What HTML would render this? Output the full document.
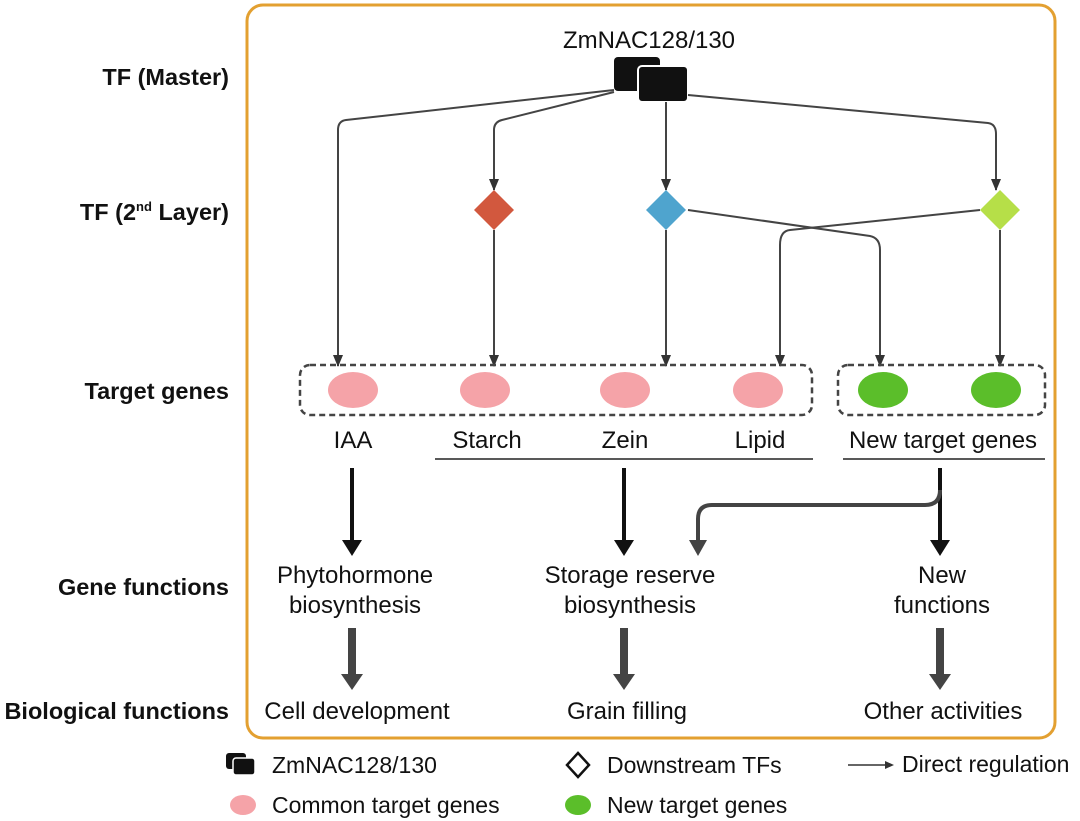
<!DOCTYPE html>
<html><head><style>body{margin:0;background:#fff}svg{display:block}text{font-family:"Liberation Sans",sans-serif}</style></head><body>
<svg width="1080" height="821" viewBox="0 0 1080 821" xmlns="http://www.w3.org/2000/svg">
<defs>
<marker id="a" markerWidth="12" markerHeight="12" refX="11" refY="6" orient="auto" markerUnits="userSpaceOnUse"><path d="M0,1 L12,6 L0,11 Z" fill="#333"/></marker>
</defs>
<rect x="247" y="5" width="808" height="733" rx="16" fill="none" stroke="#E3A031" stroke-width="3"/>
<g font-size="23.5" font-weight="bold" text-anchor="end" fill="#111">
<text x="229" y="85">TF (Master)</text>
<text x="229" y="220">TF (2<tspan font-size="13" dy="-9">nd</tspan><tspan dy="9"> Layer)</tspan></text>
<text x="229" y="399">Target genes</text>
<text x="229" y="595">Gene functions</text>
<text x="229" y="719">Biological functions</text>
</g>
<text x="649" y="48" font-size="24" text-anchor="middle" fill="#111">ZmNAC128/130</text>
<rect x="614" y="57" width="46" height="34" rx="4" fill="#111"/>
<rect x="638" y="66" width="50" height="36" rx="4" fill="#111" stroke="#fff" stroke-width="2"/>
<g fill="none" stroke="#444" stroke-width="2">
<path d="M614,90 L346,120 Q338,121 338,130 L338,366" marker-end="url(#a)"/>
<path d="M614,92 L502,120 Q494,122 494,130 L494,190" marker-end="url(#a)"/>
<path d="M666,102 L666,190" marker-end="url(#a)"/>
<path d="M688,95 L988,123 Q996,124 996,134 L996,190" marker-end="url(#a)"/>
<path d="M494,230 L494,366" marker-end="url(#a)"/>
<path d="M666,230 L666,366" marker-end="url(#a)"/>
<path d="M688,210 L870,236 Q880,238 880,250 L880,366" marker-end="url(#a)"/>
<path d="M980,210 L790,230 Q780,231 780,245 L780,366" marker-end="url(#a)"/>
<path d="M1000,230 L1000,366" marker-end="url(#a)"/>
</g>
<path d="M494,190 L514,210 L494,230 L474,210 Z" fill="#D2583E"/>
<path d="M666,190 L686,210 L666,230 L646,210 Z" fill="#4FA4CE"/>
<path d="M1000,190 L1020,210 L1000,230 L980,210 Z" fill="#B6DF48"/>
<rect x="300" y="365" width="512" height="50" rx="10" fill="none" stroke="#444" stroke-width="2.5" stroke-dasharray="6,4"/>
<rect x="838" y="365" width="207" height="50" rx="10" fill="none" stroke="#444" stroke-width="2.5" stroke-dasharray="6,4"/>
<g fill="#F5A3A8"><ellipse cx="353" cy="390" rx="25" ry="18"/><ellipse cx="485" cy="390" rx="25" ry="18"/><ellipse cx="625" cy="390" rx="25" ry="18"/><ellipse cx="758" cy="390" rx="25" ry="18"/></g>
<g fill="#5BBE2A"><ellipse cx="883" cy="390" rx="25" ry="18"/><ellipse cx="996" cy="390" rx="25" ry="18"/></g>
<g font-size="24" text-anchor="middle" fill="#111">
<text x="353" y="448">IAA</text><text x="487" y="448">Starch</text><text x="625" y="448">Zein</text><text x="760" y="448">Lipid</text><text x="943" y="448">New target genes</text>
<text x="355" y="583">Phytohormone</text><text x="355" y="613">biosynthesis</text>
<text x="630" y="583">Storage reserve</text><text x="630" y="613">biosynthesis</text>
<text x="942" y="583">New</text><text x="942" y="613">functions</text>
<text x="357" y="719">Cell development</text><text x="627" y="719">Grain filling</text><text x="943" y="719">Other activities</text>
</g>
<g stroke="#222" stroke-width="1.5"><line x1="435" y1="459" x2="813" y2="459"/><line x1="843" y1="459" x2="1045" y2="459"/></g>
<g fill="#111">
<rect x="350" y="468" width="4" height="74"/><path d="M342,540 L362,540 L352,556 Z"/>
<rect x="622" y="468" width="4" height="74"/><path d="M614,540 L634,540 L624,556 Z"/>
<rect x="938" y="468" width="4" height="74"/><path d="M930,540 L950,540 L940,556 Z"/>
</g>
<path d="M940,490 Q940,505 925,505 L712,505 Q698,505 698,519 L698,542" fill="none" stroke="#444" stroke-width="4"/>
<path d="M689,540 L707,540 L698,556 Z" fill="#444"/>
<g fill="#444">
<rect x="348" y="628" width="8" height="48"/><path d="M341,674 L363,674 L352,690 Z"/>
<rect x="620" y="628" width="8" height="48"/><path d="M613,674 L635,674 L624,690 Z"/>
<rect x="936" y="628" width="8" height="48"/><path d="M929,674 L951,674 L940,690 Z"/>
</g>
<rect x="226" y="753" width="20" height="16" rx="3" fill="#111"/>
<rect x="233" y="758" width="22" height="17" rx="3" fill="#111" stroke="#fff" stroke-width="1.5"/>
<path d="M578,753 L589,765 L578,777 L567,765 Z" fill="none" stroke="#111" stroke-width="2.5"/>
<line x1="848" y1="765" x2="885" y2="765" stroke="#333" stroke-width="1.5"/><path d="M885,761 L894,765 L885,769 Z" fill="#333"/>
<ellipse cx="243" cy="805" rx="13" ry="10" fill="#F5A3A8"/>
<ellipse cx="578" cy="805" rx="13" ry="10" fill="#5BBE2A"/>
<g font-size="23" fill="#111">
<text x="272" y="773">ZmNAC128/130</text><text x="607" y="773">Downstream TFs</text><text x="902" y="772">Direct regulation</text>
<text x="272" y="813">Common target genes</text><text x="607" y="813">New target genes</text>
</g>
</svg>
</body></html>
